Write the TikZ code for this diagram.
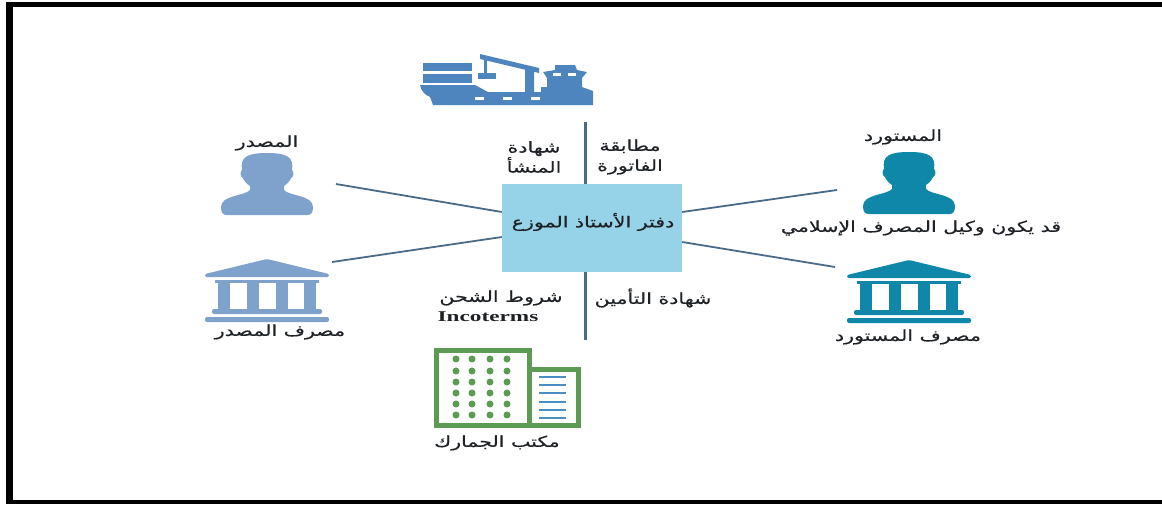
\documentclass[tikz,border=0pt]{standalone}
\usepackage{fontspec}
\setmainfont{Liberation Serif}
\newfontfamily\arabicfont[Script=Arabic,FakeStretch=1.37,FakeBold=0.5]{DejaVu Sans}
\newfontfamily\wideserif[FakeStretch=1.55]{Liberation Serif Bold}
\TeXXeTstate=1
\usepackage{color}
\usepackage{tikz}
\usetikzlibrary{calc}
\definecolor{exportblue}{HTML}{7FA2CC}
\definecolor{importteal}{HTML}{0F87A8}
\definecolor{shipblue}{HTML}{4F85BE}
\definecolor{boxblue}{HTML}{97D3E8}
\definecolor{linkslate}{HTML}{4A6B88}
\definecolor{officegreen}{HTML}{5B9B52}
\definecolor{officeblue}{HTML}{4C8FC4}
\definecolor{inktext}{HTML}{1E2226}
\newcommand{\artxt}[1]{{\arabicfont\beginR #1\endR}}
\begin{document}
\begin{tikzpicture}[x=1pt,y=-1pt,
    lbl/.style={text=inktext,inner sep=0pt,align=center,font=\fontsize{15}{20}\selectfont},
    link/.style={draw=linkslate,line width=1.8pt},
    bar/.style={link,line width=3pt},
    ledgerbox/.style={fill=boxblue,minimum width=180pt,minimum height=88pt,inner sep=0pt},
    bankicon/.pic={
        \path[pic actions,rounded corners=1.5pt] (0,0) -- (62,15) -- (62,18) -- (-62,18) -- (-62,15) -- cycle;
        \path[pic actions] (-52,21) rectangle (52,24);
        \foreach \cx in {-43,-14.5,14.5,43}
            \path[pic actions] (\cx-6,24) rectangle (\cx+6,50);
        \path[pic actions,rounded corners=2pt] (-55,50) rectangle (55,55);
        \path[pic actions,rounded corners=2pt] (-62,58) rectangle (62,63);
    },
    personicon/.pic={
        \path[pic actions] (-17,37) -- (-17,33) .. controls (-20,31) and (-23,28) .. (-24,25)
            .. controls (-27,24) and (-27,18) .. (-25,17)
            .. controls (-27,4) and (-20,0) .. (0,0)
            .. controls (20,0) and (27,4) .. (25,17)
            .. controls (27,18) and (27,24) .. (24,25)
            .. controls (23,28) and (20,31) .. (17,33) -- (17,37)
            .. controls (22,43) and (46,42) .. (46,54)
            .. controls (46,60) and (44,62) .. (40,62) -- (-40,62)
            .. controls (-44,62) and (-46,60) .. (-46,54)
            .. controls (-46,42) and (-22,43) .. (-17,37) -- cycle;
    }]
    \useasboundingbox (0,0) rectangle (1162,504);
    % frame
    \fill[black] (6,2) rectangle (1162,7);
    \fill[black] (6,2) rectangle (13,504);
    \fill[black] (6,500) rectangle (1162,504);

    % centre box
    \path (592,228) node (ledger) [ledgerbox] {}
          (593,222) node (ledgertxt) [lbl] {\artxt{دفتر الأستاذ الموزع}};

    % free ends of the connectors
    \coordinate (shipend) at (585,122);
    \coordinate (customsend) at (585,340);
    \coordinate (exporterend) at (336,184);
    \coordinate (exbankend) at (332,262);
    \coordinate (importerend) at (837,190);
    \coordinate (imbankend) at (835,267);
    \draw[bar] (shipend) -- (ledger.north -| shipend);
    \draw[bar] (customsend) -- (ledger.south -| customsend);
    \draw[link] (exporterend) -- ($(ledger.west)+(0,-16)$);
    \draw[link] (exbankend) -- ($(ledger.west)+(0,9)$);
    \draw[link] (importerend) -- ($(ledger.east)+(0,-16)$);
    \draw[link] (imbankend) -- ($(ledger.east)+(0,14)$);

    % ship
    \fill[shipblue] (423,63) rectangle (472,71);
    \fill[shipblue] (423,73.5) rectangle (472,82.5);
    \fill[shipblue] (478,73) rectangle (496,79);
    \fill[shipblue] (484,60) rectangle (487,73);
    \fill[shipblue] (480,54) -- (539,68) -- (539,73) -- (480,59) -- cycle;
    \fill[shipblue] (420,85) -- (475,85) -- (488,92) -- (525,92) -- (525,69) -- (534,69) -- (534,92) -- (541,92)
        -- (541,87) -- (547,87) -- (547,78) -- (543,72) -- (555,70) -- (555,65) -- (575,65) -- (577,70)
        -- (587,72) -- (582,78) -- (582,87) -- (593,91) -- (593,105) -- (433,105) -- (430,97)
        .. controls (425,95) and (421,91) .. (420,85) -- cycle;
    \foreach \wx in {475,503,531}
        \fill[white] (\wx,97) rectangle (\wx+9,100);
    \foreach \wx in {553,568}
        \fill[white] (\wx,73) rectangle (\wx+8,76);

    % people and banks
    \pic[fill=exportblue] at (267,153) {personicon};
    \pic[fill=importteal] at (909,152) {personicon};
    \pic[fill=exportblue] at (267,259) {bankicon};
    \pic[fill=importteal] at (909,260) {bankicon};

    % customs office
    \draw[officegreen,line width=5pt] (436.5,350.5) rectangle (529,425.5);
    \draw[officegreen,line width=5pt] (529,369.5) -- (578.5,369.5) -- (578.5,425.5) -- (529,425.5);
    \foreach \dx in {456,472,490,507}
        \foreach \dy in {359,371,382,393,404,415}
            \fill[officegreen] (\dx,\dy) circle (3.5pt);
    \foreach \ly in {377,385,393,402,410,418}
        \draw[officeblue,line width=2.5pt] (539,\ly) -- (566,\ly);

    % labels
    \path (267,143) node (exporter) [lbl] {\artxt{المصدر}}
          (280,332) node (exbank) [lbl] {\artxt{مصرف المصدر}}
          (903,137) node (importer) [lbl] {\artxt{المستورد}}
          (921,228) node (agent) [lbl] {\artxt{قد يكون وكيل المصرف الإسلامي}}
          (908,337) node (imbank) [lbl] {\artxt{مصرف المستورد}}
          (534,157) node (origin) [lbl] {\artxt{شهادة}\\\artxt{المنشأ}}
          (630,157) node (invoice) [lbl] {\artxt{مطابقة}\\\artxt{الفاتورة}}
          (501,298) node (terms) [lbl] {\artxt{شروط الشحن}}
          (488,317) node (incoterms) [lbl] {{\wideserif Incoterms}}
          (653,298) node (insurance) [lbl] {\artxt{شهادة التأمين}}
          (497,443) node (customs) [lbl] {\artxt{مكتب الجمارك}};
\end{tikzpicture}
\end{document}
